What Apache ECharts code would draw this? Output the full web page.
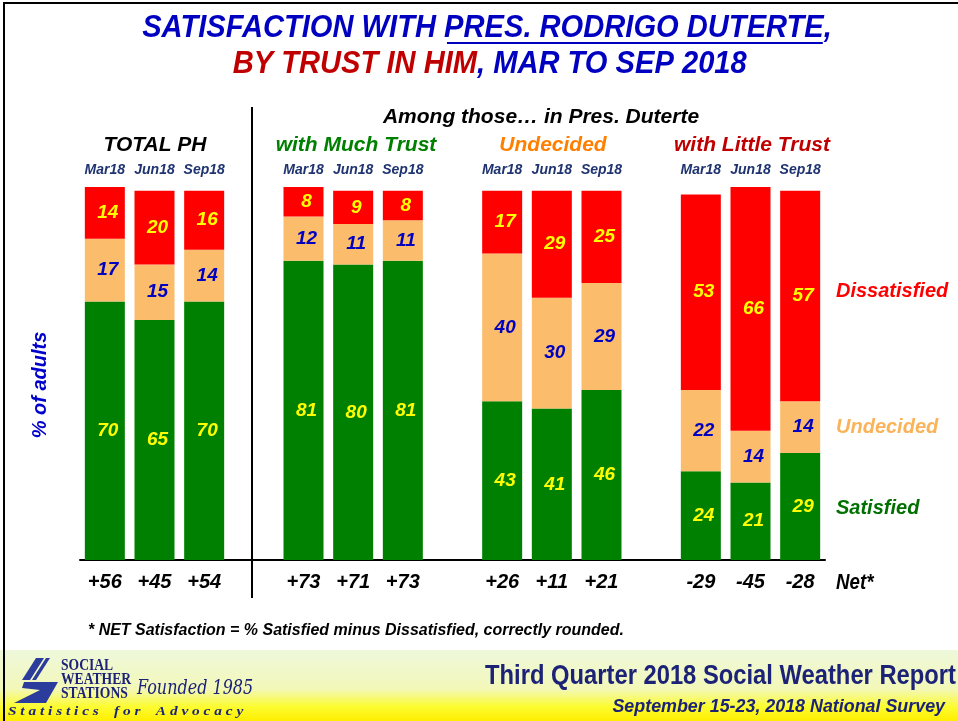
<!DOCTYPE html>
<html>
<head>
<meta charset="utf-8">
<script src="https://cdn.jsdelivr.net/npm/echarts@6/dist/echarts.min.js"></script>
<style>
html,body{margin:0;padding:0;background:#fff;}
#main{width:958px;height:721px;}
</style>
</head>
<body>
<div id="main"></div>
<script>
var groups = ['TOTAL PH', 'with Much Trust', 'Undecided', 'with Little Trust'];
var groupColors = ['#000000', '#008000', '#ff8000', '#c00000'];
var months = ['Mar18', 'Jun18', 'Sep18'];
var satisfied = [70, 65, 70, 81, 80, 81, 43, 41, 46, 24, 21, 29];
var undecided = [17, 15, 14, 12, 11, 11, 40, 30, 29, 22, 14, 14];
var dissatisfied = [14, 20, 16, 8, 9, 8, 17, 29, 25, 53, 66, 57];
var net = ['+56', '+45', '+54', '+73', '+71', '+73', '+26', '+11', '+21', '-29', '-45', '-28'];

var FONT = '"Liberation Sans", Arial, sans-serif';

// put an empty slot between the groups of three
function withGaps(arr, blank){
  var res = [];
  for(var i=0;i<arr.length;i++){
    if(i>0 && i%3==0){ res.push(blank); }
    res.push(arr[i]);
  }
  return res;
}
var monthCats = [];
for(var g=0;g<groups.length;g++){
  for(var m=0;m<months.length;m++){ monthCats.push(months[m]); }
}

function barLabel(color){
  return {
    show:true,
    position:'inside',
    offset:[3,0],
    color:color,
    fontFamily:FONT,
    fontStyle:'italic',
    fontWeight:'bold',
    fontSize:19
  };
}

function txt(x, y, text, size, color, align, sx){
  return {
    type:'text', z:10, x:x, y:y, scaleX:sx || 1,
    style:{
      x:0, y:0, text:text,
      fill:color,
      font:'italic bold ' + size + 'px ' + FONT,
      textAlign:align || 'center',
      textVerticalAlign:'middle'
    }
  };
}

var chart = echarts.init(document.getElementById('main'), null, {renderer:'canvas'});

var titleFont = 'italic bold 32px ' + FONT;
var graphics = [
  // footer band
  {type:'rect', shape:{x:0, y:650, width:958, height:71}, z:0,
    style:{fill:new echarts.graphic.LinearGradient(0,0,0,1,[
      {offset:0, color:'#eef8dc'},
      {offset:0.55, color:'#f3f8b8'},
      {offset:0.8, color:'#fcfc30'},
      {offset:1, color:'#ffee00'}
    ])}},
  // frame
  {type:'rect', shape:{x:4, y:3, width:960, height:725}, z:1,
    style:{fill:'none', stroke:'#000', lineWidth:2}},
  // divider between total and the trust groups
  {type:'line', shape:{x1:252, y1:107, x2:252, y2:598}, z:5,
    style:{stroke:'#000', lineWidth:2}},
  // title, squeezed a little like the narrow font of the original
  {type:'group', x:487, y:0, scaleX:0.91, children:[
    {type:'text', z:10, style:{
      x:0, y:28, textAlign:'center', textVerticalAlign:'middle',
      text:'{b|SATISFACTION WITH PRES. RODRIGO DUTERTE,}',
      rich:{b:{fill:'#0000c0', font:titleFont}}
    }},
    {type:'line', z:10, shape:{x1:-44, y1:43, x2:369, y2:43}, style:{stroke:'#0000c0', lineWidth:2}},
    {type:'text', z:10, style:{
      x:3, y:64, textAlign:'center', textVerticalAlign:'middle',
      text:'{r|BY TRUST IN HIM}{b|, MAR TO SEP 2018}',
      rich:{
        r:{fill:'#c00000', font:titleFont},
        b:{fill:'#0000c0', font:titleFont}
      }
    }}
  ]},
  txt(541, 117, 'Among those\u2026 in Pres. Duterte', 21, '#000'),
  // y axis name
  {type:'text', z:10, x:40, y:385, rotation:Math.PI/2, style:{
    x:0, y:0, text:'% of adults', fill:'#0000cc',
    font:'italic bold 20px ' + FONT, textAlign:'center', textVerticalAlign:'middle'}},
  // right side legend
  txt(836, 291, 'Dissatisfied', 20, '#ff0000', 'left'),
  txt(836, 427, 'Undecided', 20, '#fbb35a', 'left'),
  txt(836, 508, 'Satisfied', 20, '#007000', 'left'),
  txt(836, 583, 'Net*', 22, '#000', 'left', 0.85),
  // footnote
  txt(88, 630, '* NET Satisfaction = % Satisfied minus Dissatisfied, correctly rounded.', 17, '#000', 'left', 0.94),
  // footer
  {type:'text', z:10, x:956, y:677, scaleX:0.88, style:{x:0, y:0, text:'Third Quarter 2018 Social Weather Report',
    fill:'#1c2377', font:'bold 27px ' + FONT, textAlign:'right', textVerticalAlign:'middle'}},
  txt(945, 707, 'September 15-23, 2018 National Survey', 19, '#1c2377', 'right', 0.94),
  // logo
  {type:'polygon', z:10, shape:{points:[[36,658],[44,658],[30,680],[22,680]]}, style:{fill:'#2b3c9c'}},
  {type:'polygon', z:10, shape:{points:[[46,658],[50,658],[36,680],[32,680]]}, style:{fill:'#2b3c9c'}},
  {type:'polygon', z:10, shape:{points:[[24,682],[58,682],[46,703],[14,703],[40,690],[22,688]]}, style:{fill:'#2b3c9c'}},
  {type:'text', z:10, x:61, y:666, scaleX:0.85, style:{x:0, y:0, text:'SOCIAL', fill:'#1c2377', font:'bold 16px "Liberation Serif", serif', textVerticalAlign:'middle'}},
  {type:'text', z:10, x:61, y:680, scaleX:0.85, style:{x:0, y:0, text:'WEATHER', fill:'#1c2377', font:'bold 16px "Liberation Serif", serif', textVerticalAlign:'middle'}},
  {type:'text', z:10, x:61, y:694, scaleX:0.85, style:{x:0, y:0, text:'STATIONS', fill:'#1c2377', font:'bold 16px "Liberation Serif", serif', textVerticalAlign:'middle'}},
  {type:'text', z:10, x:137, y:689, scaleX:0.8, style:{x:0, y:0, text:'Founded 1985', fill:'#1c2377', font:'italic 20px "DejaVu Serif", serif', textVerticalAlign:'middle'}},
  {type:'text', z:10, x:8, y:712, scaleX:1.18, style:{x:0, y:0, text:'S t a t i s t i c s    f o r    A d v o c a c y', fill:'#1c2377', font:'italic bold 13px "Liberation Serif", serif', textVerticalAlign:'middle'}}
];

for(var g=0;g<groups.length;g++){
  var cx = [155, 356, 553, 752][g];
  graphics.push(txt(cx, 145, groups[g], 21, groupColors[g]));
}

chart.setOption({
  animation:false,
  backgroundColor:'#fff',
  grid:{left:80, right:133, top:187, bottom:161},
  xAxis:[
    {
      type:'category',
      position:'bottom',
      data:withGaps(net, ''),
      axisLine:{lineStyle:{color:'#000', width:2}},
      axisTick:{show:false},
      axisLabel:{interval:0, margin:12, color:'#000', fontFamily:FONT, fontStyle:'italic', fontWeight:'bold', fontSize:20}
    },
    {
      type:'category',
      position:'top',
      data:withGaps(monthCats, ''),
      axisLine:{show:false},
      axisTick:{show:false},
      axisLabel:{interval:0, margin:10, color:'#1f3370', fontFamily:FONT, fontStyle:'italic', fontWeight:'bold', fontSize:14}
    }
  ],
  yAxis:{type:'value', min:0, max:101, show:false},
  series:[
    {name:'Satisfied', type:'bar', stack:'s', barWidth:40, data:withGaps(satisfied, '-'),
      itemStyle:{color:'#008000'}, label:barLabel('#ffff00')},
    {name:'Undecided', type:'bar', stack:'s', barWidth:40, data:withGaps(undecided, '-'),
      itemStyle:{color:'#fbbc6c'}, label:barLabel('#0000c0')},
    {name:'Dissatisfied', type:'bar', stack:'s', barWidth:40, data:withGaps(dissatisfied, '-'),
      itemStyle:{color:'#ff0000'}, label:barLabel('#ffff00')}
  ],
  graphic:graphics
});
</script>
</body>
</html>
